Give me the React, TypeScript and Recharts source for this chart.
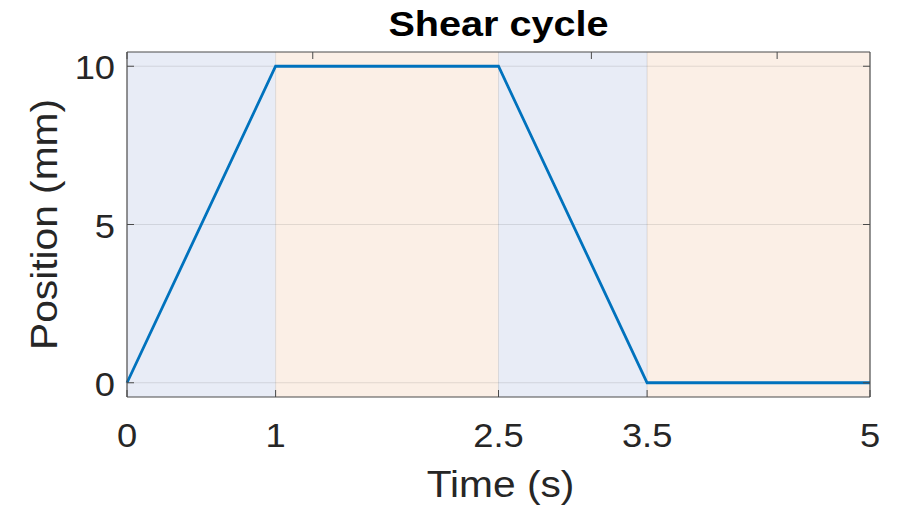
import {
  ComposedChart,
  Line,
  XAxis,
  YAxis,
  ReferenceArea,
  ReferenceLine,
} from "recharts";

// displacement profile of one shear cycle
const timeS = [0, 1, 2.5, 3.5, 5];
const positionMm = [0, 10, 10, 0, 0];

const xTicks = [0, 1, 2.5, 3.5, 5];
const yTicks = [0, 5, 10];
const xGrid = [1, 2.5, 3.5];
const yGrid = [0, 5, 10];

// shaded phases: ramps in blue, holds in orange
const phaseStart = [0, 1, 2.5, 3.5];
const phaseEnd = [1, 2.5, 3.5, 5];
const phaseKind = ["ramp", "hold", "ramp", "hold"];

const data = timeS.map((t, i) => ({ t, pos: positionMm[i] }));

const W = 902;
const H = 507;
// axes take 1px each, so the plot box is 127..870 x 52..397
const M = { top: 51, right: 31, bottom: 109, left: 126 };

const AXIS = "#4a4a4a";
const TEXT = "#262626";
const FONT = "'Liberation Sans', Arial, Helvetica, sans-serif";
const TICK_LEN = 7;
const STRETCH = "scale(1.1,1)";

const PHASE_FILL: Record<string, string> = {
  ramp: "#E8ECF6",
  hold: "#FBEFE6",
};

function LeftTick({ x, y, payload }: any) {
  return (
    <g>
      <line x1={x} x2={x + TICK_LEN} y1={y} y2={y} stroke={AXIS} />
      <text
        transform={`translate(${x - 12},${y + 13}) ${STRETCH}`}
        textAnchor="end"
        fontSize={33}
        fontFamily={FONT}
        fill={TEXT}
      >
        {payload.value}
      </text>
    </g>
  );
}

function BottomTick({ x, y, payload }: any) {
  return (
    <g>
      <line x1={x} x2={x} y1={y} y2={y - TICK_LEN} stroke={AXIS} />
      <text
        transform={`translate(${x},${y + 50}) ${STRETCH}`}
        textAnchor="middle"
        fontSize={33}
        fontFamily={FONT}
        fill={TEXT}
      >
        {payload.value}
      </text>
    </g>
  );
}

function TopTick({ x, y }: any) {
  return <line x1={x} x2={x} y1={y} y2={y + TICK_LEN} stroke={AXIS} />;
}

function RightTick({ x, y }: any) {
  return <line x1={x} x2={x - TICK_LEN} y1={y} y2={y} stroke={AXIS} />;
}

export default function App() {
  const plotCx = 127 + (870 - 127) / 2;
  const plotCy = 52 + (397 - 52) / 2;

  return (
    <div style={{ position: "absolute", left: 0, top: 0, width: W, height: H, background: "#fff" }}>
      <ComposedChart width={W} height={H} data={data} margin={M}>
        {phaseStart.map((s, i) => (
          <ReferenceArea
            key={`p${i}`}
            xAxisId="b"
            yAxisId="l"
            x1={s}
            x2={phaseEnd[i]}
            y1={-0.45}
            y2={10.45}
            fill={PHASE_FILL[phaseKind[i]]}
            fillOpacity={1}
            stroke="none"
            ifOverflow="hidden"
          />
        ))}
        {xGrid.map((v) => (
          <ReferenceLine
            key={`gx${v}`}
            xAxisId="b"
            yAxisId="l"
            x={v}
            stroke="#262626"
            strokeOpacity={0.12}
          />
        ))}
        {yGrid.map((v) => (
          <ReferenceLine
            key={`gy${v}`}
            xAxisId="b"
            yAxisId="l"
            y={v}
            stroke="#262626"
            strokeOpacity={0.12}
          />
        ))}
        <Line
          xAxisId="b"
          yAxisId="l"
          type="linear"
          dataKey="pos"
          stroke="#0072BD"
          strokeWidth={2.8}
          dot={false}
          activeDot={false}
          isAnimationActive={false}
        />
        <XAxis
          xAxisId="b"
          dataKey="t"
          type="number"
          domain={[0, 5]}
          ticks={xTicks}
          interval={0}
          height={1}
          tickSize={0}
          tickMargin={0}
          tickLine={false}
          axisLine={{ stroke: AXIS, strokeWidth: 1.2 }}
          tick={<BottomTick />}
        />
        <XAxis
          xAxisId="t"
          orientation="top"
          type="number"
          domain={[0, 5]}
          ticks={xTicks}
          interval={0}
          height={1}
          tickSize={0}
          tickMargin={0}
          tickLine={false}
          axisLine={{ stroke: AXIS, strokeWidth: 1.2 }}
          tick={<TopTick />}
        />
        <YAxis
          yAxisId="l"
          type="number"
          domain={[-0.45, 10.45]}
          allowDataOverflow
          ticks={yTicks}
          interval={0}
          width={1}
          tickSize={0}
          tickMargin={0}
          tickLine={false}
          axisLine={{ stroke: AXIS, strokeWidth: 1.2 }}
          tick={<LeftTick />}
        />
        <YAxis
          yAxisId="r"
          orientation="right"
          type="number"
          domain={[-0.45, 10.45]}
          allowDataOverflow
          ticks={yTicks}
          interval={0}
          width={1}
          tickSize={0}
          tickMargin={0}
          tickLine={false}
          axisLine={{ stroke: AXIS, strokeWidth: 1.2 }}
          tick={<RightTick />}
        />
      </ComposedChart>

      {/* title and axis labels */}
      <svg
        width={W}
        height={H}
        style={{ position: "absolute", left: 0, top: 0, pointerEvents: "none" }}
      >
        <text
          transform={`translate(${plotCx},36) ${STRETCH}`}
          textAnchor="middle"
          fontSize={36}
          fontWeight="bold"
          fontFamily={FONT}
          fill="#000"
        >
          Shear cycle
        </text>
        <text
          transform={`translate(${plotCx + 2},497) ${STRETCH}`}
          textAnchor="middle"
          fontSize={37}
          fontFamily={FONT}
          fill={TEXT}
        >
          Time (s)
        </text>
        <text
          transform={`translate(57,${plotCy}) rotate(-90) ${STRETCH}`}
          textAnchor="middle"
          fontSize={37}
          fontFamily={FONT}
          fill={TEXT}
        >
          Position (mm)
        </text>
      </svg>
    </div>
  );
}
